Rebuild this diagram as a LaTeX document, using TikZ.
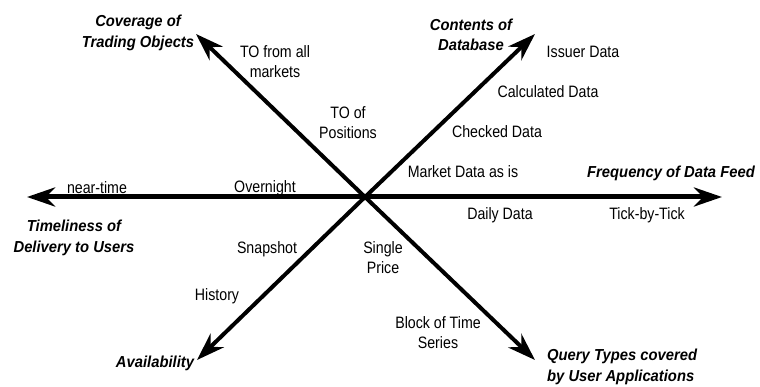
\documentclass[tikz,border=0pt]{standalone}
\usepackage{fontspec}
\setmainfont{Liberation Sans}[FakeStretch=0.86]
\newfontfamily\axisfont{Liberation Sans}[FakeStretch=0.93]
\usetikzlibrary{arrows.meta}

\begin{document}
\begin{tikzpicture}[x=1pt,y=-1pt,
  lbl/.style={inner sep=0pt,align=center,font=\fontsize{16.5}{20}\selectfont},
  ttl/.style={inner sep=0pt,align=center,font=\axisfont\bfseries\itshape\fontsize{15.9}{20.5}\selectfont},
  axis/.style={line width=4pt,-{Stealth[length=28pt,width=19pt,inset=9pt]}},
  haxis/.style={axis,line width=5pt}]

  \useasboundingbox (0,0) rectangle (760,387);

  \coordinate (o) at (365,197);
  \coordinate (freq) at (722,197);
  \coordinate (time) at (27,197);
  \coordinate (cont) at (535,34);
  \coordinate (cov) at (196,34);
  \coordinate (avail) at (197,360);
  \coordinate (query) at (535,360);

  \draw[haxis] (o) -- (freq);
  \draw[haxis] (o) -- (time);
  \draw[axis] (o) -- (cont);
  \draw[axis] (o) -- (cov);
  \draw[axis] (o) -- (avail);
  \draw[axis] (o) -- (query);

  \node[ttl] (covlbl) at (138,33) {Coverage of\\Trading Objects};
  \node[ttl] (contlbl) at (471,35) {Contents of\\Database};
  \node[ttl] (freqlbl) at (671,173) {Frequency of Data Feed};
  \node[ttl] (timelbl) at (74,238) {Timeliness of\\Delivery to Users};
  \node[ttl] (availlbl) at (155,363) {Availability};
  \node[ttl,anchor=west,align=left] (querylbl) at (547,367) {Query Types covered\\by User Applications};

  \node[lbl] (toall) at (275,62) {TO from all\\markets};
  \node[lbl] (topos) at (348,123) {TO of\\Positions};
  \node[lbl] (near) at (97,188) {near-time};
  \node[lbl] (night) at (265,188) {Overnight};
  \node[lbl] (issuer) at (583,52) {Issuer Data};
  \node[lbl] (calc) at (548,92) {Calculated Data};
  \node[lbl] (checked) at (497,132) {Checked Data};
  \node[lbl] (market) at (463,172) {Market Data as is};
  \node[lbl] (daily) at (500,215) {Daily Data};
  \node[lbl] (tick) at (647,215) {Tick-by-Tick};
  \node[lbl] (snap) at (267,249) {Snapshot};
  \node[lbl] (hist) at (217,296) {History};
  \node[lbl] (single) at (383,258) {Single\\Price};
  \node[lbl] (block) at (438,333) {Block of Time\\Series};

\end{tikzpicture}
\end{document}
